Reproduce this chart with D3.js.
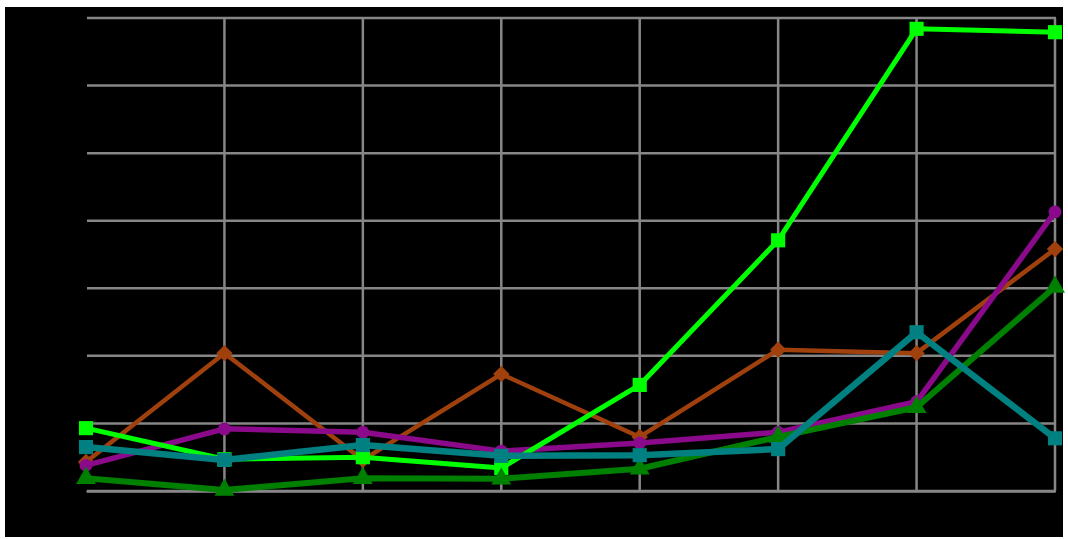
<!DOCTYPE html>
<html>
<head>
<meta charset="utf-8">
<script src="https://cdn.jsdelivr.net/npm/d3@7"></script>
<style>
  html, body { margin: 0; padding: 0; background: #ffffff; }
  svg { display: block; }
</style>
</head>
<body>
<svg id="chart" width="1068" height="539"></svg>
<script>
// ---- data (y scale 0..70, gridline every 10) ----
const categories = ["1", "2", "3", "4", "5", "6", "7", "8"];
const yTicks = [0, 10, 20, 30, 40, 50, 60, 70];

const seriesBrown     = [4.3, 20.4, 4.6, 17.3, 8.0, 20.9, 20.4, 35.8];
const seriesPurple    = [3.8, 9.2, 8.7, 5.9, 7.1, 8.7, 13.2, 41.3];
const seriesLime      = [9.3, 4.7, 5.0, 3.4, 15.7, 37.1, 68.4, 67.9];
const seriesDarkGreen = [1.9, 0.15, 1.9, 1.8, 3.3, 8.0, 12.4, 30.2];
const seriesTeal      = [6.5, 4.6, 6.8, 5.2, 5.3, 6.2, 23.5, 7.8];

const seriesList = [
  { name: "brown",  values: seriesBrown,     color: "#a0410d", symbol: d3.symbolDiamond2, size: 170, width: 4.5 },
  { name: "purple", values: seriesPurple,    color: "#8b0a8b", symbol: d3.symbolCircle,   size: 130, width: 5.5 },
  { name: "lime",   values: seriesLime,      color: "#00ff00", symbol: d3.symbolSquare,   size: 200, width: 5 },
  { name: "green",  values: seriesDarkGreen, color: "#008000", symbol: d3.symbolTriangle, size: 170, width: 6 },
  { name: "teal",   values: seriesTeal,      color: "#008080", symbol: d3.symbolSquare,   size: 200, width: 6.5 }
];

// ---- layout ----
const svg = d3.select("#chart");
svg.append("rect").attr("x", 5).attr("y", 7).attr("width", 1058).attr("height", 530).attr("fill", "#000");

const x = d3.scalePoint().domain(categories).range([86, 1055]).padding(0);
const y = d3.scaleLinear().domain([0, 70]).range([491, 18]);

const grid = svg.append("g");
grid.selectAll("line.h").data(yTicks).join("line")
  .attr("x1", 87).attr("x2", 1056)
  .attr("y1", d => y(d)).attr("y2", d => y(d))
  .attr("stroke", "#868686").attr("stroke-width", 2.5);
grid.selectAll("line.v").data(categories.slice(1)).join("line")
  .attr("x1", d => x(d)).attr("x2", d => x(d))
  .attr("y1", y(70)).attr("y2", y(0))
  .attr("stroke", "#868686").attr("stroke-width", 2.5);

// bottom axis (no visible labels)
const xAxis = d3.axisBottom(x).tickSize(0).tickFormat("");
const ax = svg.append("g").attr("transform", `translate(0,${y(0)})`).call(xAxis);
ax.select(".domain").attr("stroke", "#868686").attr("stroke-width", 2.5);

// ---- series ----
const line = d3.line().x((d, i) => x(categories[i])).y(d => y(d));
seriesList.forEach(s => {
  const g = svg.append("g");
  g.append("path").datum(s.values)
    .attr("d", line)
    .attr("fill", "none")
    .attr("stroke", s.color)
    .attr("stroke-width", s.width)
    .attr("stroke-linejoin", "round");
  g.selectAll("path.m").data(s.values).join("path")
    .attr("class", "m")
    .attr("transform", (d, i) => `translate(${x(categories[i])},${y(d)})`)
    .attr("d", d3.symbol().type(s.symbol).size(s.size))
    .attr("fill", s.color);
});
</script>
</body>
</html>
